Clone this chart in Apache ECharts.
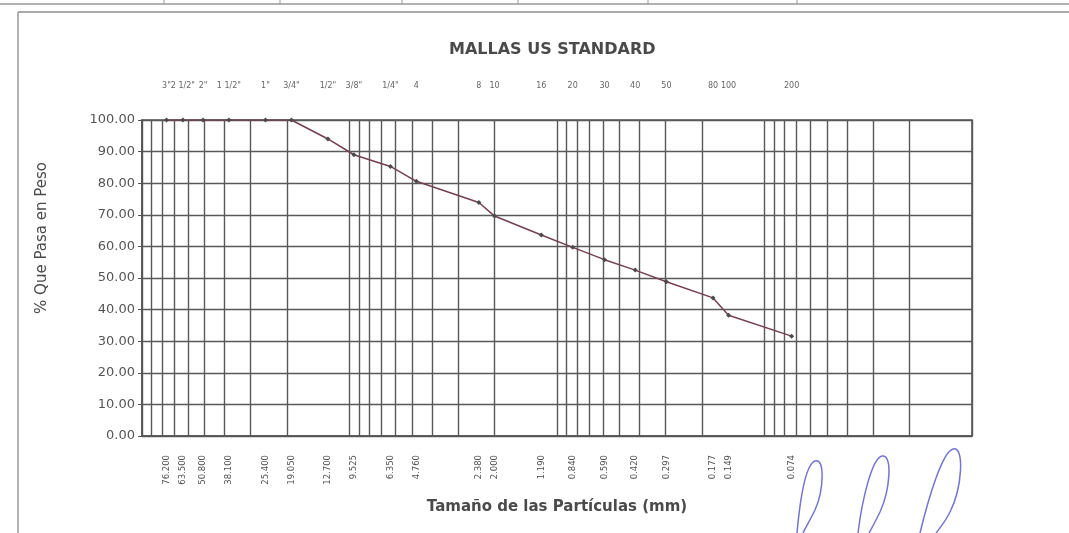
<!DOCTYPE html>
<html>
<head>
<meta charset="utf-8">
<script src="https://cdn.jsdelivr.net/npm/echarts@6/dist/echarts.min.js"></script>
<style>
html,body{margin:0;padding:0;background:#fff;}
#chart{width:1069px;height:533px;}
</style>
</head>
<body>
<div id="chart"></div>
<script>
// Sieve openings (mm), sieve names, and percent passing
const sieveSizes = [76.2, 63.5, 50.8, 38.1, 25.4, 19.05, 12.7, 9.525, 6.35, 4.76, 2.38, 2.0, 1.19, 0.84, 0.59, 0.42, 0.297, 0.177, 0.149, 0.074];
const sieveNames = ['3"', '2 1/2"', '2"', '1 1/2"', '1"', '3/4"', '1/2"', '3/8"', '1/4"', '4', '8', '10', '16', '20', '30', '40', '50', '80', '100', '200'];
const percentPassing = [100, 100, 100, 100, 100, 100, 94.0, 89.0, 85.3, 80.6, 73.9, 69.6, 63.6, 59.7, 55.8, 52.5, 48.8, 43.7, 38.2, 31.6];
// log grid lines (1..9 per decade)
const gridValues = [100, 90, 80, 70, 60, 50, 40, 30, 20, 10, 9, 8, 7, 6, 5, 4, 3, 2, 1, 0.9, 0.8, 0.7, 0.6, 0.5, 0.4, 0.3, 0.2, 0.1, 0.09, 0.08, 0.07, 0.06, 0.05, 0.04, 0.03, 0.02, 0.01];
const yTicks = [0, 10, 20, 30, 40, 50, 60, 70, 80, 90, 100];

function nearestIndex(v) {
  let best = 0, bd = Infinity;
  sieveSizes.forEach((s, i) => { const d = Math.abs(Math.log(s) - Math.log(v)); if (d < bd) { bd = d; best = i; } });
  return best;
}

// signature scribbles (decoration) as bezier segments
function loop(pts) {
  const out = [];
  for (let i = 0; i + 3 < pts.length; i += 3) {
    out.push({type: 'bezierCurve', silent: true, shape: {
      x1: pts[i][0], y1: pts[i][1], cpx1: pts[i+1][0], cpy1: pts[i+1][1],
      cpx2: pts[i+2][0], cpy2: pts[i+2][1], x2: pts[i+3][0], y2: pts[i+3][1]},
      style: {fill: 'none', stroke: '#7474d4', lineWidth: 1.5}});
  }
  return out;
}

const frameLines = [
  [0, 4, 1069, 4, '#999', 1.5], [18, 12, 1069, 12, '#aaa', 2], [18, 12, 18, 533, '#999', 1.5],
  [164, 0, 164, 4, '#999', 1], [280, 0, 280, 4, '#999', 1], [402, 0, 402, 4, '#999', 1],
  [518, 0, 518, 4, '#999', 1], [648, 0, 648, 4, '#999', 1], [797, 0, 797, 4, '#999', 1]
].map(a => ({type: 'line', silent: true, shape: {x1: a[0], y1: a[1], x2: a[2], y2: a[3]}, style: {stroke: a[4], lineWidth: a[5]}}));

const scribbles = [].concat(
  loop([[797,533],[800,500],[805,465],[815,461],[825,457],[824,490],[815,510],[810,520],[806,527],[803,533]]),
  loop([[858,533],[862,500],[872,458],[882,456],[893,454],[890,490],[880,512],[875,522],[872,528],[869,533]]),
  loop([[920,533],[928,500],[942,452],[953,449],[965,446],[962,488],[950,512],[945,522],[940,528],[936,533]])
);

const chart = echarts.init(document.getElementById('chart'), null, {renderer: 'canvas'});
const gridColor = '#595959';
chart.setOption({
  animation: false,
  backgroundColor: '#ffffff',
  title: {
    text: 'MALLAS US STANDARD',
    left: 444, top: 37,
    textStyle: {fontFamily: 'DejaVu Sans', fontSize: 16, fontWeight: 'bold', color: '#4a4a4a'}
  },
  grid: {left: 142, right: 97, top: 120, bottom: 97, show: true, borderColor: '#555', borderWidth: 1.6, containLabel: false},
  xAxis: [{
    type: 'log', logBase: 10, min: 0.01, max: 100, inverse: true, position: 'bottom',
    axisLine: {show: true, lineStyle: {color: '#555', width: 1.6}},
    axisTick: {show: false, customValues: gridValues},
    splitLine: {show: true, lineStyle: {color: gridColor, width: 1.4}},
    axisLabel: {
      customValues: sieveSizes, rotate: 90, margin: 19,
      fontFamily: 'DejaVu Sans', fontSize: 8.5, color: '#505050',
      formatter: v => sieveSizes[nearestIndex(v)].toFixed(3)
    },
    name: 'Tamaño de las Partículas (mm)', nameLocation: 'middle', nameGap: 64,
    nameTextStyle: {fontFamily: 'DejaVu Sans', fontSize: 15, fontWeight: 'bold', color: '#4a4a4a'}
  }, {
    type: 'log', logBase: 10, min: 0.01, max: 100, inverse: true, position: 'top',
    axisLine: {show: false}, axisTick: {show: false}, splitLine: {show: false},
    axisLabel: {
      customValues: sieveSizes, margin: 30,
      fontFamily: 'DejaVu Sans', fontSize: 8, color: '#666',
      formatter: v => sieveNames[nearestIndex(v)]
    }
  }],
  yAxis: {
    type: 'value', min: 0, max: 100, interval: 10,
    axisLine: {show: true, lineStyle: {color: '#555', width: 1.6}},
    axisTick: {show: true, length: 4, lineStyle: {color: '#555'}},
    splitLine: {show: true, lineStyle: {color: gridColor, width: 1.4}},
    axisLabel: {formatter: v => v.toFixed(2), fontFamily: 'DejaVu Sans', fontSize: 13, color: '#555', margin: 7},
    name: '% Que Pasa en Peso', nameLocation: 'middle', nameGap: 92,
    nameTextStyle: {fontFamily: 'DejaVu Sans', fontSize: 15, color: '#4a4a4a', padding: [0, 0, 0, 80]}
  },
  series: [{
    type: 'line', xAxisIndex: 0,
    data: sieveSizes.map((s, i) => [s, percentPassing[i]]),
    lineStyle: {color: '#74404f', width: 1.5},
    symbol: 'diamond', symbolSize: 5,
    itemStyle: {color: '#4a4a4a'}
  }],
  graphic: frameLines.concat(scribbles)
});
</script>
</body>
</html>
